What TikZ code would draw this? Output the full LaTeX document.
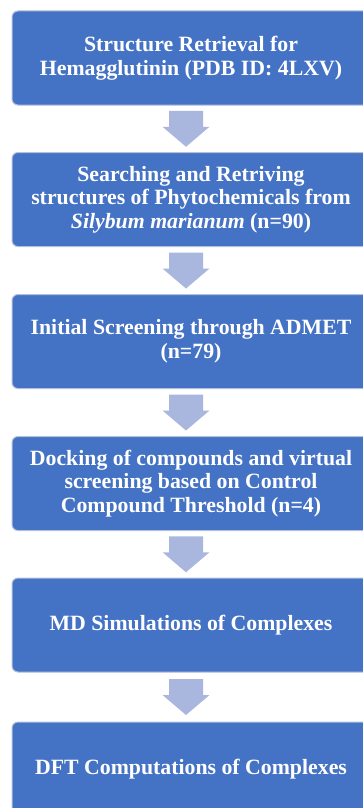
\documentclass[tikz,border=0pt]{standalone}
\usepackage{fontspec}
\setmainfont{Liberation Serif}
\usetikzlibrary{calc}
\definecolor{boxblue}{HTML}{4472C4}
\definecolor{boxedge}{HTML}{B4C0DA}
\definecolor{arrowfill}{HTML}{A9B7DE}
\tikzset{
  stepbox/.style={draw=boxedge, line width=1pt, fill=boxblue, rounded corners=6pt,
    minimum width=358pt, minimum height=94pt, inner sep=0pt, align=center,
    text=white, font=\bfseries\fontsize{21.8}{23.5}\selectfont},
  blockarrow/.style={fill=arrowfill, draw=none},
}
\newcommand{\downarr}[1]{%
  \fill[blockarrow] ($(#1)+(-17,-18)$) -- ($(#1)+(17,-18)$) -- ($(#1)+(17,-2)$)
    -- ($(#1)+(23.5,-2)$) -- ($(#1)+(0,18)$) -- ($(#1)+(-23.5,-2)$)
    -- ($(#1)+(-17,-2)$) -- cycle;}
\begin{document}
\begin{tikzpicture}[x=1pt,y=-1pt]
\useasboundingbox (0,0) rectangle (362,808);
\fill[white] (0,0) rectangle (362,808);
\node[stepbox] (b1) at (191,58) {Structure Retrieval for\\Hemagglutinin (PDB ID: 4LXV)};
\node[stepbox] (b2) at (191,199.5) {Searching and Retriving\\structures of Phytochemicals from\\\textit{Silybum marianum} (n=90)};
\node[stepbox] (b3) at (191,341.5) {Initial Screening through ADMET\\(n=79)};
\node[stepbox] (b4) at (191,483.5) {Docking of compounds and virtual\\screening based on Control\\Compound Threshold (n=4)};
\node[stepbox] (b5) at (191,625) {MD Simulations of Complexes};
\node[stepbox] (b6) at (191,769) {DFT Computations of Complexes};
\foreach \a/\b/\n in {b1/b2/m1,b2/b3/m2,b3/b4/m3,b4/b5/m4,b5/b6/m5}{
  \path ($(\a.south)+(-5,0)$) -- ($(\b.north)+(-5,0)$) coordinate[midway] (\n);
}
\foreach \n in {m1,m2,m3,m4,m5}{\downarr{\n}}
\end{tikzpicture}
\end{document}
